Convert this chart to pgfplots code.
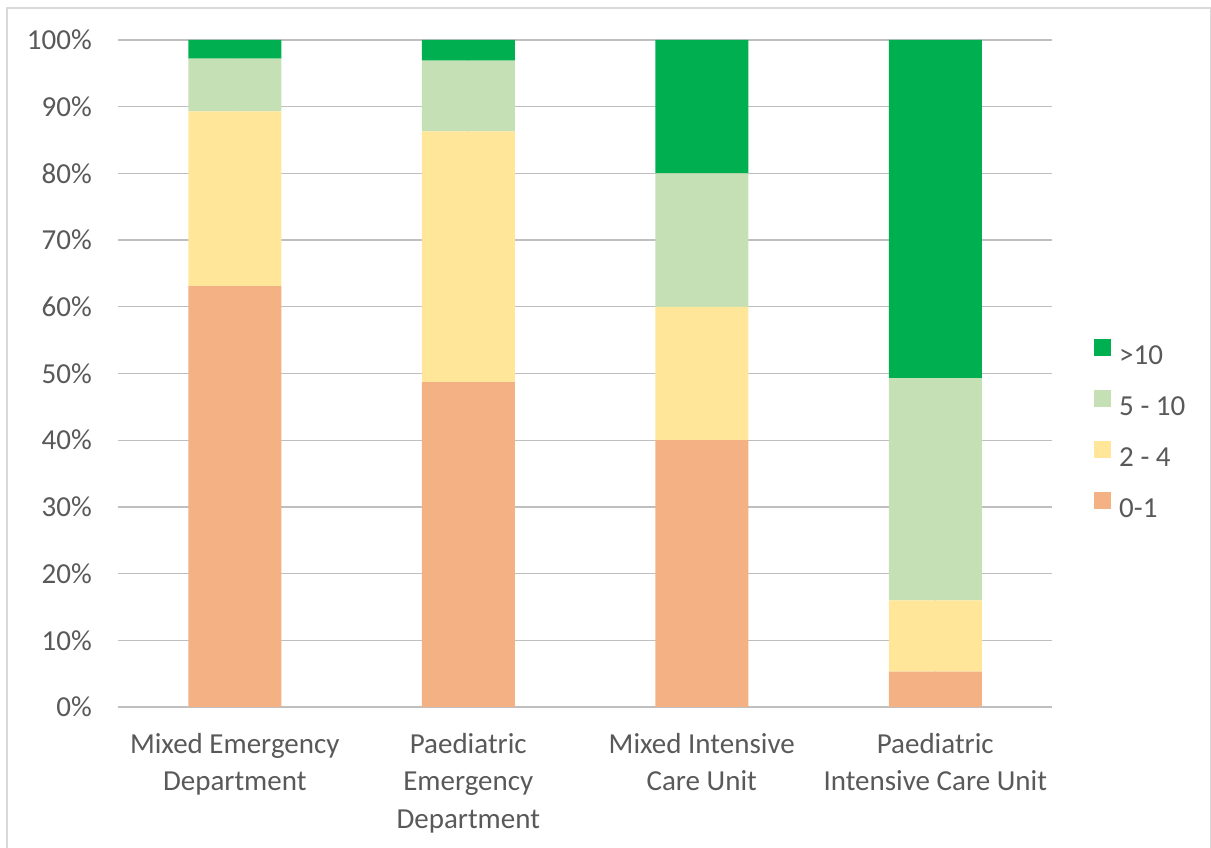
\documentclass[border=0pt]{standalone}
\usepackage{pgfplots}
\pgfplotsset{compat=1.18}
\usepackage{fontspec}
\setmainfont{Carlito}
\definecolor{txt}{HTML}{595959}
\definecolor{grid}{HTML}{D9D9D9}
\definecolor{c01}{HTML}{F4B183}
\definecolor{c24}{HTML}{FFE699}
\definecolor{c510}{HTML}{C5E0B4}
\definecolor{c10}{HTML}{00B050}
\newcommand{\lf}{\fontsize{29bp}{37.5bp}\selectfont}
\begin{document}
\begin{tikzpicture}[x=1bp,y=1bp]
\useasboundingbox (0,0) rectangle (1211,848);
\draw[grid, line width=1.5bp] (7,-5) -- (7,840) -- (1210.3,840) -- (1210.3,-5);
\begin{axis}[
  at={(118bp,141bp)}, anchor=south west,
  scale only axis, width=934bp, height=667bp,
  ybar stacked, bar width=93bp,
  xmin=-0.5, xmax=3.5, ymin=0, ymax=100,
  xtick={0,1,2,3},
  xticklabels={{Mixed Emergency\\Department},{Paediatric\\Emergency\\Department},{Mixed Intensive\\Care Unit},{Paediatric\\Intensive Care Unit}},
  ytick={0,10,...,100},
  yticklabel={\pgfmathprintnumber{\tick}\%},
  /pgf/number format/assume math mode=true,
  major tick length=0pt,
  axis line style={draw=none},
  ymajorgrids, grid style={grid, line width=1.3bp},
  tick label style={font=\lf, text=txt},
  xticklabel style={align=center, anchor=north, inner sep=0pt, yshift=-26bp},
  yticklabel style={anchor=east, inner sep=0pt, xshift=-26bp},
  reverse legend,
  legend style={at={(1.045,0.417)}, anchor=west, draw=none, fill=none, font=\lf, text=txt,
    inner sep=0pt, row sep=24bp, nodes={inner sep=0pt, text=txt}, column sep=8bp},
  legend cell align=left,
  legend image code/.code={\fill[#1] (0bp,0bp) rectangle (17bp,17bp);},
]
\addplot[fill=c01, draw=none] coordinates {(0,63.1) (1,48.7) (2,40) (3,5.3)};
\addplot[fill=c24, draw=none] coordinates {(0,26.2) (1,37.6) (2,20) (3,10.7)};
\addplot[fill=c510, draw=none] coordinates {(0,7.9) (1,10.6) (2,20) (3,33.3)};
\addplot[fill=c10, draw=none] coordinates {(0,2.8) (1,3.1) (2,20) (3,50.7)};
\legend{0-1,2 - 4,5 - 10,>10}
\end{axis}
\end{tikzpicture}
\end{document}
